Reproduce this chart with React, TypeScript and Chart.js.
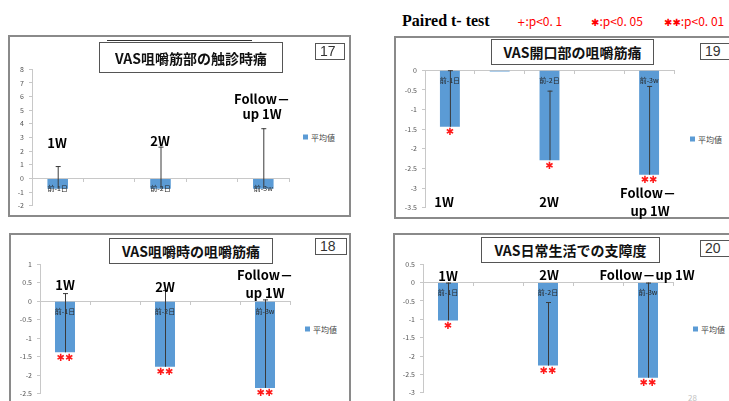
import React, { useEffect, useRef } from "react";
import { Chart, registerables } from "chart.js";

Chart.register(...registerables);

// Category slots on each mini chart (empty slots keep the Excel-style spacing)
const categories = ["前-1日", "", "前-2日", "", "前-3w"];
const seriesLabel = "平均値";

// VAS咀嚼筋部の触診時痛
const palpationMean = [-0.75, null, -0.75, null, -0.75];
const palpationSD = [1.66, null, 3.08, null, 4.43];
const palpationMarks = ["", "", "", "", ""];

// VAS開口部の咀嚼筋痛
const openingMean = [-1.44, -0.03, -2.29, null, -2.66];
const openingSD = [1.44, 0, 1.77, null, 2.26];
const openingMarks = ["✱", "", "✱", "", "✱✱"];

// VAS咀嚼時の咀嚼筋痛
const chewingMean = [-1.38, null, -1.77, null, -2.34];
const chewingSD = [1.6, null, 2.07, null, 2.39];
const chewingMarks = ["✱✱", "", "✱✱", "", "✱✱"];

// VAS日常生活での支障度
const dailyMean = [-1.03, null, -2.26, null, -2.59];
const dailySD = [1.03, null, 1.73, null, 2.59];
const dailyMarks = ["✱", "", "✱✱", "", "✱✱"];

const JP = '"Noto Sans CJK JP", "Noto Sans", sans-serif';
const BAR_BLUE = "#5b9bd5";

type Num = number | null;

interface PanelProps {
  left: number;
  top: number;
  width: number;
  height: number;
  axisWidth: number;
  min: number;
  max: number;
  step: number;
  mean: Num[];
  sd: Num[];
  marks: string[];
}

function BarPanel(p: PanelProps) {
  const ref = useRef<HTMLCanvasElement | null>(null);

  useEffect(() => {
    const canvas = ref.current;
    if (!canvas) return;

    // Category names over the bars, upward (plus) error bars from each mean,
    // and significance marks just under each bar end
    const overlay = {
      id: "barOverlay",
      afterDraw(chart: any) {
        const { ctx } = chart;
        const meta = chart.getDatasetMeta(0);
        const xScale = chart.scales.x;
        const yScale = chart.scales.y;
        const zeroY = yScale.getPixelForValue(0);
        ctx.save();

        ctx.fillStyle = "#262626";
        ctx.font = `7px ${JP}`;
        ctx.textAlign = "center";
        ctx.textBaseline = "middle";
        (chart.data.labels as string[]).forEach((lab, i) => {
          if (!lab) return;
          ctx.fillText(lab, xScale.getPixelForValue(i), zeroY + 10);
        });

        meta.data.forEach((bar: any, i: number) => {
          const m = p.mean[i];
          if (m == null) return;
          const x = bar.x;
          const s = p.sd[i];
          if (s) {
            const y0 = yScale.getPixelForValue(m);
            const y1 = yScale.getPixelForValue(m + s);
            ctx.strokeStyle = "#3a3a3a";
            ctx.lineWidth = 1;
            ctx.beginPath();
            ctx.moveTo(x + 0.5, y0);
            ctx.lineTo(x + 0.5, y1);
            ctx.moveTo(x - 2, y1 + 0.5);
            ctx.lineTo(x + 3, y1 + 0.5);
            ctx.stroke();
          }
          const mark = p.marks[i];
          if (mark) {
            ctx.fillStyle = "#ff1a1a";
            ctx.font = `10px "DejaVu Sans", sans-serif`;
            ctx.textAlign = "center";
            ctx.textBaseline = "middle";
            ctx.fillText(mark, x, yScale.getPixelForValue(m) + 6);
          }
        });
        ctx.restore();
      },
    };

    const chart = new Chart(canvas, {
      type: "bar",
      data: {
        labels: categories,
        datasets: [
          {
            label: seriesLabel,
            data: p.mean as any,
            backgroundColor: BAR_BLUE,
            borderWidth: 0,
            categoryPercentage: 1,
            barPercentage: 0.4,
          },
        ],
      },
      options: {
        responsive: false,
        animation: false,
        layout: { padding: { left: 0, top: 8, right: 8, bottom: 8 } },
        plugins: {
          legend: { display: false },
          tooltip: { enabled: false },
        },
        scales: {
          x: {
            position: { y: 0 } as any,
            grid: {
              drawOnChartArea: false,
              tickLength: 3,
              color: "#c8c8c8",
            },
            border: { color: "#c8c8c8" },
            ticks: { display: false },
          },
          y: {
            min: p.min,
            max: p.max,
            afterFit: (s: any) => {
              s.width = p.axisWidth;
            },
            grid: {
              drawOnChartArea: false,
              tickLength: 3,
              color: "#c8c8c8",
            },
            border: { color: "#c8c8c8" },
            ticks: {
              stepSize: p.step,
              padding: 5,
              color: "#555555",
              font: { size: 7, family: JP },
              callback: (v: any) => String(Math.round(Number(v) * 10) / 10),
            },
          },
        },
      },
      plugins: [overlay],
    });
    return () => chart.destroy();
  }, []);

  return (
    <canvas
      ref={ref}
      width={p.width}
      height={p.height}
      style={{ position: "absolute", left: p.left, top: p.top, width: p.width, height: p.height }}
    />
  );
}

function Frame({ left, top, width, height }: { left: number; top: number; width: number; height: number }) {
  return (
    <div
      style={{
        position: "absolute",
        left,
        top,
        width,
        height,
        boxSizing: "border-box",
        border: "2px solid #8a8a8a",
        background: "#fff",
      }}
    />
  );
}

function TitleBox({ left, top, width, height, text }: { left: number; top: number; width: number; height: number; text: string }) {
  return (
    <div
      style={{
        position: "absolute",
        left,
        top,
        width,
        height,
        boxSizing: "border-box",
        border: "1.5px solid #555",
        background: "#fff",
        display: "flex",
        alignItems: "center",
        justifyContent: "center",
        fontFamily: JP,
        fontWeight: 700,
        fontSize: 14,
        color: "#111",
        whiteSpace: "nowrap",
      }}
    >
      {text}
    </div>
  );
}

function NumberBox({ left, top, width, text }: { left: number; top: number; width: number; text: string }) {
  return (
    <div
      style={{
        position: "absolute",
        left,
        top,
        width,
        height: 17,
        boxSizing: "border-box",
        border: "1px solid #555",
        background: "#fff",
        fontFamily: '"Liberation Sans", Arial, sans-serif',
        fontSize: 14,
        lineHeight: "15px",
        color: "#333",
        paddingLeft: 4,
      }}
    >
      {text}
    </div>
  );
}

function Label({ x, y, text, size = 13 }: { x: number; y: number; text: string; size?: number }) {
  return (
    <div
      style={{
        position: "absolute",
        left: x,
        top: y,
        transform: "translate(-50%, -50%)",
        fontFamily: JP,
        fontWeight: 700,
        fontSize: size,
        lineHeight: 1,
        color: "#000",
        whiteSpace: "nowrap",
      }}
    >
      {text}
    </div>
  );
}

function Legend({ x, y }: { x: number; y: number }) {
  return (
    <div
      style={{
        position: "absolute",
        left: x,
        top: y,
        transform: "translateY(-50%)",
        display: "flex",
        alignItems: "center",
        fontFamily: JP,
        fontSize: 8,
        color: "#444",
        whiteSpace: "nowrap",
      }}
    >
      <span style={{ display: "inline-block", width: 5, height: 5, background: BAR_BLUE, marginRight: 3 }} />
      {seriesLabel}
    </div>
  );
}

function RedNote({ x, star, text }: { x: number; star: string; text: string }) {
  return (
    <div
      style={{
        position: "absolute",
        left: x,
        top: 21,
        transform: "translateY(-50%)",
        fontFamily: JP,
        fontSize: 12,
        lineHeight: 1,
        color: "#ff0000",
        whiteSpace: "nowrap",
      }}
    >
      <span style={{ fontFamily: '"DejaVu Sans", sans-serif', fontSize: 10 }}>{star}</span>
      {text}
    </div>
  );
}

export default function App() {
  return (
    <div
      style={{
        position: "fixed",
        left: 0,
        top: 0,
        width: 729,
        height: 401,
        overflow: "hidden",
        background: "#fff",
      }}
    >
      {/* header */}
      <div
        style={{
          position: "absolute",
          left: 402,
          top: 21,
          transform: "translateY(-50%)",
          fontFamily: '"Liberation Serif", "Times New Roman", serif',
          fontWeight: 700,
          fontSize: 16,
          lineHeight: 1,
          color: "#000",
          whiteSpace: "nowrap",
        }}
      >
        Paired t- test
      </div>
      <RedNote x={517} star="+" text=":p<0. 1" />
      <RedNote x={591} star="✱" text=":p<0. 05" />
      <RedNote x={664} star="✱✱" text=":p<0. 01" />

      {/* frames */}
      <Frame left={8} top={35} width={343} height={182} />
      <Frame left={394} top={36} width={350} height={183} />
      <Frame left={9} top={233} width={342} height={190} />
      <Frame left={393} top={233} width={350} height={190} />

      {/* charts */}
      <BarPanel left={10} top={60} width={287} height={155} axisWidth={22} min={-2} max={8} step={1}
        mean={palpationMean} sd={palpationSD} marks={palpationMarks} />
      <BarPanel left={395} top={61} width={287} height={156} axisWidth={30} min={-3.5} max={0} step={0.5}
        mean={openingMean} sd={openingSD} marks={openingMarks} />
      <BarPanel left={12} top={255} width={286} height={148} axisWidth={28} min={-2.5} max={1} step={0.5}
        mean={chewingMean} sd={chewingSD} marks={chewingMarks} />
      <BarPanel left={393} top={255} width={288} height={147} axisWidth={30} min={-3} max={0.5} step={0.5}
        mean={dailyMean} sd={dailySD} marks={dailyMarks} />

      {/* panel 17 */}
      <div style={{ position: "absolute", left: 107, top: 40, width: 145, height: 1, background: "#333" }} />
      <TitleBox left={99} top={42} width={184} height={31} text="VAS咀嚼筋部の触診時痛" />
      <NumberBox left={315} top={43} width={30} text="17" />
      <Legend x={303} y={137} />
      <Label x={57} y={142} text="1W" />
      <Label x={160} y={140} text="2W" />
      <Label x={262} y={98} text="Follow－" />
      <Label x={262} y={113} text="up 1W" />

      {/* panel 19 */}
      <TitleBox left={491} top={39} width={163} height={26} text="VAS開口部の咀嚼筋痛" />
      <NumberBox left={700} top={43} width={40} text="19" />
      <Legend x={690} y={139} />
      <Label x={444} y={201} text="1W" />
      <Label x={549} y={201} text="2W" />
      <Label x={648} y={192} text="Follow－" />
      <Label x={650} y={210} text="up 1W" />

      {/* panel 18 */}
      <TitleBox left={109} top={238} width={164} height={26} text="VAS咀嚼時の咀嚼筋痛" />
      <NumberBox left={315} top={238} width={32} text="18" />
      <Legend x={305} y={329} />
      <Label x={65} y={284} text="1W" />
      <Label x={165} y={286} text="2W" />
      <Label x={265} y={274} text="Follow－" />
      <Label x={265} y={292} text="up 1W" />

      {/* panel 20 */}
      <TitleBox left={481} top={237} width={179} height={26} text="VAS日常生活での支障度" />
      <NumberBox left={700} top={240} width={40} text="20" />
      <Legend x={693} y={329} />
      <Label x={448} y={275} text="1W" />
      <Label x={549} y={274} text="2W" />
      <Label x={647} y={274} text="Follow－up 1W" />

      <div
        style={{
          position: "absolute",
          left: 688,
          top: 392,
          fontFamily: JP,
          fontSize: 8,
          color: "#c0c0c0",
        }}
      >
        28
      </div>
    </div>
  );
}
